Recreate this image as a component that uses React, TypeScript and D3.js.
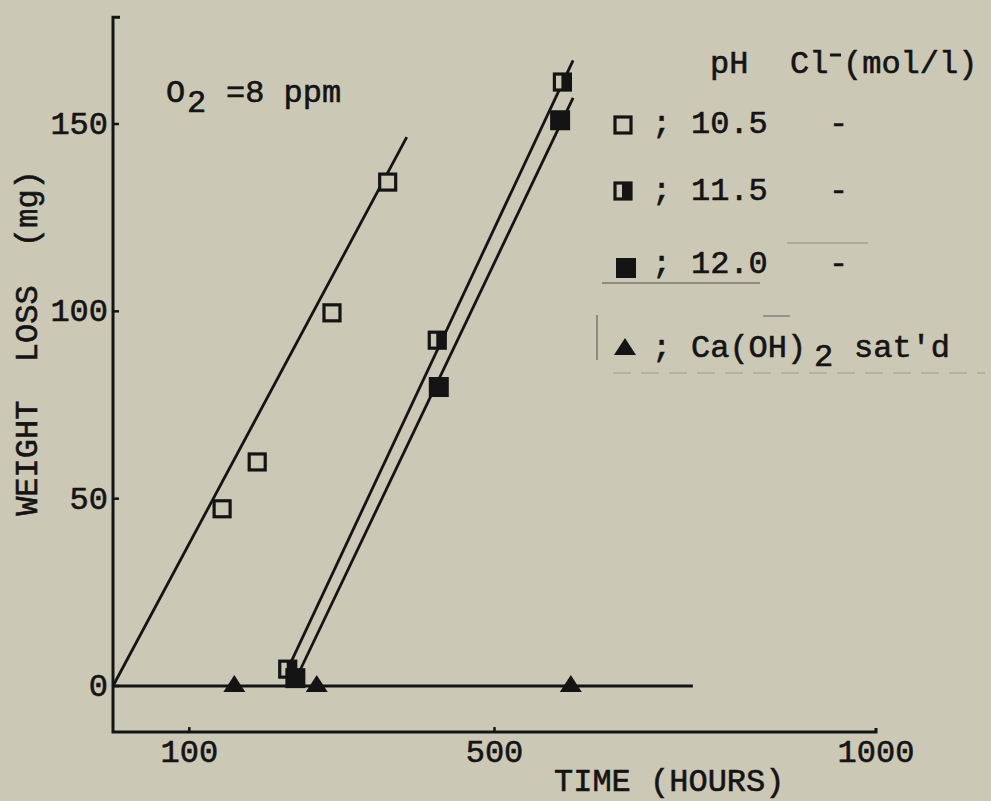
import React from "react";
import * as d3 from "d3";

const W = 991;
const H = 801;

// Data
const times105 = [143, 189, 287, 360];
const loss105 = [47.3, 59.8, 99.6, 134.5];
const times115 = [229, 425, 589];
const loss115 = [4.5, 92.3, 161.2];
const times120 = [239, 427, 586];
const loss120 = [2.1, 79.8, 151];
const timesCa = [159, 267, 600];
const lossCa = [0, 0, 0];

// fitted straight lines [time, loss]
const fit105 = [[0, 0], [385, 146.5]];
const fit115 = [[229, 4.5], [603, 167]];
const fit120 = [[240, 2], [603, 157]];
const fitCa = [[0, 0], [760, 0]];

const xTicks = [100, 500, 1000];
const yTicks = [0, 50, 100, 150];

const BG = "rgb(204,200,182)";
const INK = "#141414";
const FONT = "'Liberation Mono', 'DejaVu Sans Mono', monospace";

export default function App() {
  const x = d3.scaleLinear().domain([0, 1000]).range([113, 876]);
  const y = d3.scaleLinear().domain([0, 150]).range([686, 124]);
  const yBottom = -12.3;
  const yTop = 178.5;
  const line = d3
    .line<number[]>()
    .x((d) => x(d[0]))
    .y((d) => y(d[1]));

  const openSq = (cx: number, cy: number, key: string) => (
    <rect key={key} x={cx - 8} y={cy - 8} width={16} height={16} fill={BG} stroke={INK} strokeWidth={3.2} />
  );
  const halfSq = (cx: number, cy: number, key: string) => (
    <g key={key}>
      <rect x={cx - 8} y={cy - 8} width={16} height={16} fill={BG} stroke={INK} strokeWidth={3.2} />
      <rect x={cx - 1} y={cy - 8} width={9} height={16} fill={INK} />
    </g>
  );
  const fullSq = (cx: number, cy: number, key: string) => (
    <rect key={key} x={cx - 10} y={cy - 10} width={20} height={20} fill={INK} />
  );
  const tri = (cx: number, cy: number, key: string) => (
    <path key={key} d={`M${cx},${cy - 10} L${cx + 11},${cy + 7} L${cx - 11},${cy + 7} Z`} fill={INK} />
  );

  const textStyle = {
    fontFamily: FONT,
    fontSize: 32,
    fill: INK,
    stroke: INK,
    strokeWidth: 0.6,
  } as const;

  return (
    <svg
      width={W}
      height={H}
      style={{ position: "absolute", left: 0, top: 0, background: BG }}
    >
      <rect x={0} y={0} width={W} height={H} fill={BG} />

      {/* axes */}
      <path
        d={`M${x(0) + 7},${y(yTop)} L${x(0)},${y(yTop)} L${x(0)},${y(yBottom)} L${x(1000)},${y(yBottom)} L${x(1000)},${y(yBottom) - 4}`}
        fill="none"
        stroke={INK}
        strokeWidth={3}
      />
      {yTicks.map((t) => (
        <g key={"yt" + t}>
          <line x1={x(0)} x2={x(0) + 6} y1={y(t)} y2={y(t)} stroke={INK} strokeWidth={2.5} />
          <text x={x(0) - 5} y={y(t) + 10} textAnchor="end" style={textStyle}>
            {t}
          </text>
        </g>
      ))}
      {xTicks.map((t) => (
        <g key={"xt" + t}>
          {t !== 1000 && (
            <line x1={x(t)} x2={x(t)} y1={y(yBottom)} y2={y(yBottom) - 5} stroke={INK} strokeWidth={2.5} />
          )}
          <text x={x(t)} y={762} textAnchor="middle" style={textStyle}>
            {t}
          </text>
        </g>
      ))}

      <text x={554} y={791} style={textStyle}>
        TIME (HOURS)
      </text>
      <text
        transform="translate(37,343) rotate(-90)"
        textAnchor="middle"
        style={textStyle}
        xmlSpace="preserve"
      >
        {"WEIGHT  LOSS  (mg)"}
      </text>

      {/* O2 annotation */}
      <text x={166} y={102} style={textStyle}>O</text>
      <text x={187} y={112} style={textStyle}>2</text>
      <text x={226} y={102} style={textStyle} xmlSpace="preserve">{"=8 ppm"}</text>

      {/* fit lines */}
      {[fit105, fit115, fit120, fitCa].map((f, i) => (
        <path key={"f" + i} d={line(f) || ""} fill="none" stroke={INK} strokeWidth={2.8} />
      ))}

      {/* markers */}
      {timesCa.map((t, i) => tri(x(t), y(lossCa[i]) - 1, "ca" + i))}
      {times105.map((t, i) => openSq(x(t), y(loss105[i]), "a" + i))}
      {times115.map((t, i) => halfSq(x(t), y(loss115[i]), "b" + i))}
      {times120.map((t, i) => fullSq(x(t), y(loss120[i]), "c" + i))}

      {/* legend */}
      <text x={710} y={73} style={textStyle}>pH</text>
      <text x={790} y={73} style={textStyle}>Cl</text>
      <line x1={830} x2={841} y1={55} y2={55} stroke={INK} strokeWidth={3} />
      <text x={843} y={73} style={textStyle}>(mol/l)</text>

      {openSq(623, 125, "l1")}
      <text x={652} y={133} style={textStyle}>;</text>
      <text x={691} y={133} style={textStyle}>10.5</text>
      <text x={829} y={133} style={textStyle}>-</text>

      {halfSq(623, 191, "l2")}
      <text x={652} y={200} style={textStyle}>;</text>
      <text x={691} y={200} style={textStyle}>11.5</text>
      <text x={829} y={200} style={textStyle}>-</text>

      {fullSq(626, 268, "l3")}
      <text x={652} y={273} style={textStyle}>;</text>
      <text x={691} y={273} style={textStyle}>12.0</text>
      <text x={829} y={273} style={textStyle}>-</text>

      {tri(625, 348, "l4")}
      <text x={652} y={357} style={textStyle}>;</text>
      <text x={691} y={357} style={textStyle}>Ca(OH)</text>
      <text x={814} y={366} style={textStyle}>2</text>
      <text x={854} y={357} style={textStyle}>sat'd</text>

      {/* scan artifacts around legend */}
      <line x1={602} x2={760} y1={283} y2={283} stroke="#555" strokeWidth={1.5} opacity={0.7} />
      <line x1={787} x2={868} y1={243} y2={243} stroke="#666" strokeWidth={1.2} opacity={0.6} />
      <line x1={597} x2={597} y1={315} y2={360} stroke="#555" strokeWidth={1.5} opacity={0.7} />
      <line x1={763} x2={790} y1={316} y2={316} stroke="#555" strokeWidth={1.5} opacity={0.6} />
      <line x1={613} x2={985} y1={373} y2={373} stroke="#777" strokeWidth={1.2} strokeDasharray="18 10" opacity={0.5} />
    </svg>
  );
}
